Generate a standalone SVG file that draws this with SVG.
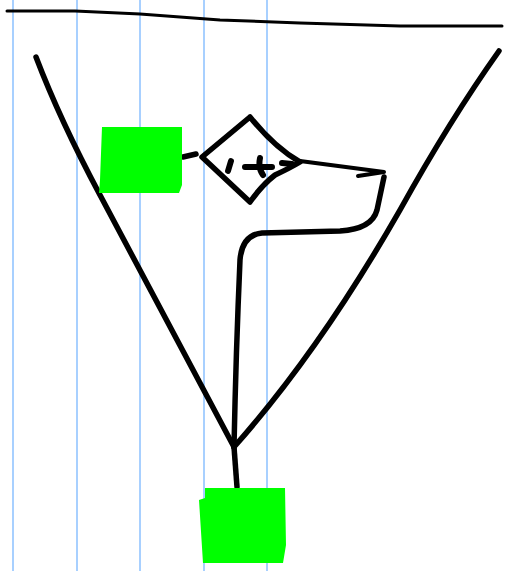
<svg xmlns="http://www.w3.org/2000/svg" width="507" height="571" viewBox="0 0 507 571">
<style>
.grid{stroke:#a8d0ff;stroke-width:2}
.ink{fill:none;stroke:#000;stroke-width:5.5;stroke-linecap:round;stroke-linejoin:round}
.thin{fill:none;stroke:#000;stroke-width:3;stroke-linecap:round}
.box{fill:#00ff00}
</style>
<rect width="507" height="571" fill="#fff"/>
<g id="grid">
<line class="grid" x1="13" y1="0" x2="13" y2="571"/>
<line class="grid" x1="77" y1="0" x2="77" y2="571"/>
<line class="grid" x1="140" y1="0" x2="140" y2="571"/>
<line class="grid" x1="204" y1="0" x2="204" y2="571"/>
<line class="grid" x1="267" y1="0" x2="267" y2="571"/>
</g>
<g id="connectors">
<path class="thin" d="M7 11 L75 11 L140 14 L220 20 L300 23 L400 26 L502 26"/>
<path class="ink" d="M36 57 Q60 120 100 195 L234 447"/>
<path class="ink" d="M499 51 Q450 120 400 210 Q320 350 234 447"/>
<path class="ink" d="M234 447 L237 487"/>
<path class="ink" d="M234 447 Q236 350 240 260 Q242 235 262 233 L340 231 Q372 229 377 210 L384 177"/>
<path class="thin" d="M300 161 L384 172 M358 176 L384 172" style="stroke-width:4"/>
<path class="ink" d="M183 157 L196 154"/>
</g>
<g id="box1"><path class="box" d="M102 127 L182 127 L182 185 L179 193 L99 193 L100 180 Z"/></g>
<g id="decision">
<path class="ink" d="M250 117 L202 157 L250 202 Q262 185 275 175 Q290 168 300 162 Q275 148 250 117 Z"/>
<path class="ink" style="stroke-width:6" d="M231 161 L228 171 M245 167 L272 167 M260 158 Q258 168 263 175 M282 163 L292 164"/>
</g>
<g id="box2"><path class="box" d="M205 488 L285 488 L286 545 L283 563 L203 563 L199 500 L205 498 Z"/></g>
</svg>
